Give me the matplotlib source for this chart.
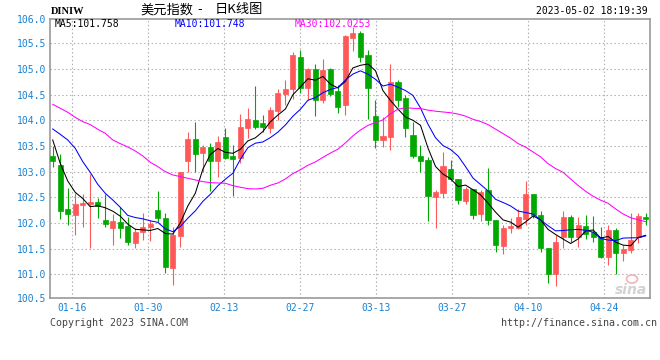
import numpy as np
import pandas as pd
import matplotlib
matplotlib.use('Agg')
import matplotlib.pyplot as plt
from matplotlib.patches import Ellipse

# DINIW daily candles 2023-01-11 .. 2023-05-02
opens  = [103.305, 103.130, 102.273, 102.156, 102.351, 102.370, 102.409, 102.058, 101.903, 102.019,
          101.942, 101.617, 101.825, 101.922, 102.253, 102.097, 101.130, 101.753, 103.208, 103.636,
          103.364, 103.481, 103.208, 103.675, 103.305, 103.260, 103.844, 104.000, 103.948, 103.857,
          104.182, 104.513, 104.610, 105.234, 104.630, 105.000, 104.390, 105.000, 104.571, 104.299,
          105.604, 105.701, 105.273, 104.084, 103.617, 103.675, 104.747, 104.435, 103.714, 103.305,
          103.227, 102.513, 102.584, 103.052, 102.857, 102.429, 102.662, 102.175, 102.643, 102.058,
          101.558, 101.896, 101.909, 102.078, 102.565, 102.156, 101.519, 101.013, 101.727, 102.117,
          101.727, 101.942, 101.831, 101.727, 101.344, 101.864, 101.416, 101.474, 101.727, 102.110]
highs  = [103.500, 103.344, 102.688, 102.578, 102.565, 102.955, 102.487, 102.558, 102.169, 102.318,
          102.123, 101.896, 102.188, 102.058, 102.623, 102.188, 101.929, 103.000, 103.779, 103.974,
          103.519, 103.552, 103.695, 103.857, 103.519, 104.130, 104.240, 104.669, 104.104, 104.266,
          104.610, 104.786, 105.338, 105.370, 105.026, 105.097, 105.195, 105.013, 104.688, 105.662,
          105.825, 105.740, 105.370, 104.396, 104.071, 105.097, 104.786, 104.494, 103.974, 103.519,
          103.292, 102.643, 103.390, 103.227, 102.857, 102.708, 102.662, 102.643, 103.065, 102.058,
          101.961, 102.091, 102.273, 102.818, 102.565, 102.234, 101.519, 101.766, 102.234, 102.156,
          102.123, 102.156, 102.136, 101.929, 101.961, 101.896, 101.571, 102.201, 102.201, 102.188]
lows   = [103.097, 102.078, 101.961, 101.766, 101.922, 101.506, 102.097, 101.929, 101.571, 101.714,
          101.571, 101.506, 101.669, 101.649, 102.026, 101.019, 100.792, 101.539, 103.000, 103.000,
          103.000, 102.623, 102.896, 103.240, 102.532, 103.162, 103.649, 103.831, 103.779, 103.760,
          104.006, 104.299, 104.416, 104.526, 104.396, 104.091, 104.331, 104.481, 104.143, 104.104,
          105.357, 105.143, 104.026, 103.468, 103.487, 103.422, 104.266, 103.682, 103.273, 103.000,
          102.039, 101.909, 102.494, 102.818, 102.370, 102.370, 102.078, 102.039, 101.961, 101.442,
          101.396, 101.799, 101.883, 101.961, 102.104, 101.442, 100.838, 100.779, 101.519, 101.636,
          101.539, 101.688, 101.636, 101.312, 101.182, 101.013, 101.260, 101.416, 101.604, 101.961]
closes = [103.208, 102.240, 102.175, 102.370, 102.390, 102.409, 102.331, 101.981, 102.039, 101.903,
          101.636, 101.825, 101.922, 101.981, 102.097, 101.149, 101.766, 103.000, 103.636, 103.344,
          103.481, 103.208, 103.578, 103.266, 103.253, 103.870, 104.026, 103.877, 103.877, 104.201,
          104.532, 104.610, 105.273, 104.630, 105.000, 104.390, 104.981, 104.513, 104.266, 105.643,
          105.701, 105.234, 104.636, 103.617, 103.695, 104.747, 104.396, 103.857, 103.305, 103.208,
          102.526, 102.610, 103.110, 102.857, 102.448, 102.662, 102.156, 102.610, 102.058, 101.571,
          101.903, 101.942, 102.117, 102.565, 102.156, 101.519, 101.013, 101.623, 102.117, 101.727,
          101.961, 101.786, 101.727, 101.338, 101.864, 101.416, 101.494, 101.669, 102.136, 102.084]

# moving-average values at the left edge (their window reaches before the chart)
ma5_head  = [103.617, 103.162, 102.818, 102.597]
ma10_head = [103.831, 103.727, 103.617, 103.455, 103.195, 102.987, 102.753, 102.578, 102.448]
ma30_head = [104.312, 104.234, 104.156, 104.058, 103.974, 103.916, 103.825, 103.747, 103.617, 103.545,
             103.481, 103.403, 103.305, 103.182, 103.097, 103.000, 102.935, 102.903, 102.870, 102.838,
             102.805, 102.786, 102.779, 102.773, 102.727, 102.695, 102.669, 102.662, 102.675]

# values printed in the header
ma_labels = ['MA5:101.758', 'MA10:101.748', 'MA30:102.0253']

date_labels = ['01-16', '01-30', '02-13', '02-27', '03-13', '03-27', '04-10', '04-24']
date_ticks  = [2.61, 12.74, 22.86, 32.95, 43.03, 53.24, 63.36, 73.49]
y_grid      = [101.0, 101.5, 102.0, 102.5, 103.0, 103.5, 104.0, 104.5, 105.0, 105.5]

RED   = '#ff5858'
GREEN = '#00a800'
BLUE  = '#1a82d2'
MONO  = 'DejaVu Sans Mono'

plt.rcParams['font.family'] = MONO

c = pd.Series(closes)
ma5  = c.rolling(5).mean().to_numpy()
ma10 = c.rolling(10).mean().to_numpy()
ma30 = c.rolling(30).mean().to_numpy()
ma5[:len(ma5_head)]   = ma5_head
ma10[:len(ma10_head)] = ma10_head
ma30[:len(ma30_head)] = ma30_head

o = np.array(opens)
cl = np.array(closes)
x = np.arange(len(closes))
cols = np.where(cl >= o, RED, GREEN)

fig = plt.figure(figsize=(6.6, 3.6), dpi=100)
ax = fig.add_axes([50.3 / 660, 1 - 297.7 / 360, 599.2 / 660, 278.7 / 360])

ylo, yhi = 100.544, 105.973
ax.set_xlim(-0.32, 79.51)
ax.set_ylim(ylo, yhi)

ax.vlines(x, lows, highs, colors=cols, linewidth=0.8, zorder=3)
ax.bar(x, np.abs(cl - o), bottom=np.minimum(o, cl), width=0.68,
       color=cols, edgecolor=cols, linewidth=0.5, zorder=4)

ax.plot(x, ma5,  color='black',   lw=0.75, zorder=5)
ax.plot(x, ma10, color='#0000ff', lw=0.75, zorder=5)
ax.plot(x, ma30, color='#ff00ff', lw=0.75, zorder=5)

# grid
for v in y_grid:
    ax.axhline(v, color='#b0b0b0', lw=0.8, ls=(0, (1.3, 2.2)), zorder=1)
for t in date_ticks:
    ax.axvline(t, color='#b0b0b0', lw=0.8, ls=(0, (1.3, 2.2)), zorder=1)

ax.set_xticks(date_ticks)
ax.set_xticklabels(date_labels)
ax.set_yticks([ylo] + y_grid + [yhi])
ax.set_yticklabels(['100.5'] + ['%.1f' % v for v in y_grid] + ['106.0'])
ax.tick_params(axis='both', length=0, labelsize=7, labelcolor=BLUE)
ax.tick_params(axis='y', pad=3.2)
ax.tick_params(axis='x', pad=3.5)

for s in ax.spines.values():
    s.set_color('#999999')
    s.set_linewidth(1.2)

# header texts
def ftext(px, py, s, **kw):
    fig.text(px / 660, 1 - py / 360, s, va='center', **kw)

ftext(51, 11, 'DINIW', family='Liberation Serif', weight='bold', size=7.5)
cjk = ['Noto Sans CJK SC', 'DejaVu Sans']
ftext(140, 10, '美元指数', family=cjk, size=9.5)
ftext(200, 10, '-', family=cjk, size=9.5, ha='center')
ftext(215, 10, '日K线图', family=cjk, size=9.5)
ftext(648, 11.5, '2023-05-02 18:19:39', size=7, ha='right')

ftext(55, 24, ma_labels[0], size=7, color='black')
ftext(175, 24, ma_labels[1], size=7, color='#0000ff')
ftext(295, 24, ma_labels[2], size=7, color='#ff00ff')

ftext(50, 323, 'Copyright 2023 SINA.COM', size=7.2, color='#444444')
ftext(657, 323, 'http://finance.sina.com.cn', size=7.2, color='#444444', ha='right')

# sina watermark
ftext(647, 290, 'sina', family='DejaVu Sans', size=10, weight='bold', style='italic',
      color='#d2d2d2', ha='right')
fig.add_artist(Ellipse((632 / 660, 1 - 279 / 360), 11 / 660, 8 / 360,
                       transform=fig.transFigure, fill=False, ec='#f2b4b4', lw=1.2))

fig.savefig('out.png', dpi=100)
